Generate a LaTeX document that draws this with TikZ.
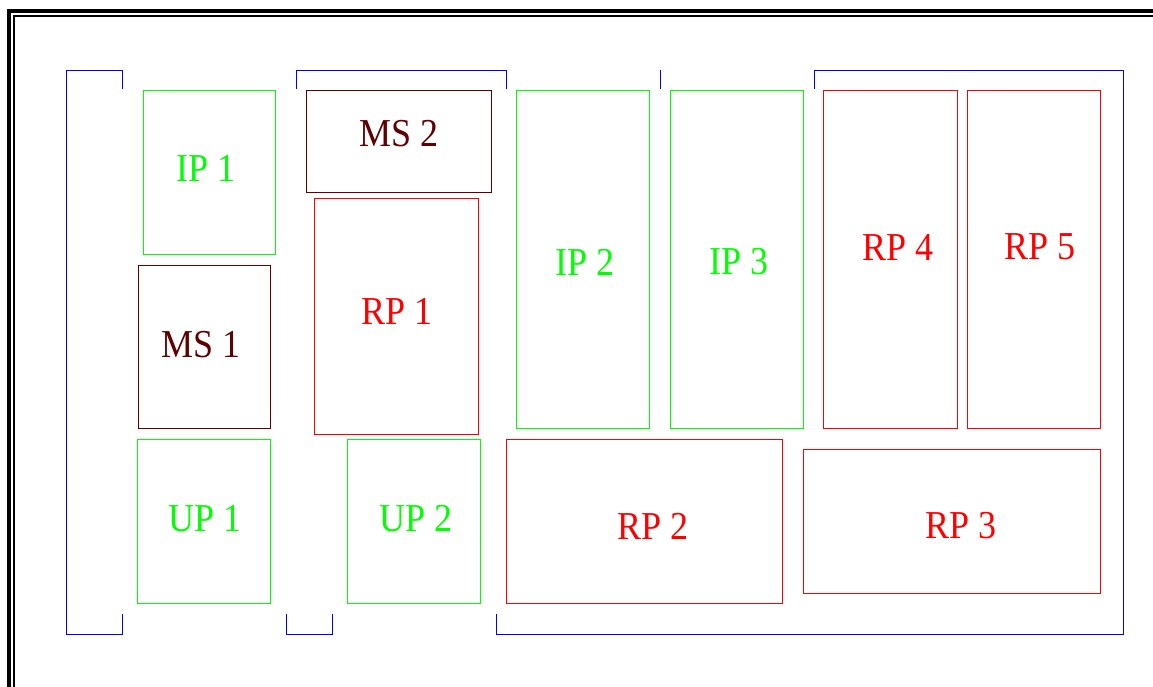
\documentclass[tikz,border=0pt]{standalone}
\usepackage{fontspec}
\setmainfont{Liberation Serif}
\usetikzlibrary{fit}
\definecolor{pgreen}{RGB}{0,255,0}
\definecolor{pred}{RGB}{255,0,0}
\definecolor{pmaroon}{RGB}{96,0,0}
\definecolor{pblue}{RGB}{0,0,255}
\tikzset{
  box/.style={draw, inner sep=0pt, line width=0.75pt},
  gbox/.style={box, draw=pgreen},
  rbox/.style={box, draw=pred},
  mbox/.style={box, draw=pmaroon},
  lbl/.style={inner sep=0pt, font=\fontsize{27}{30}\selectfont},
  brk/.style={draw=pblue, line width=0.75pt},
}
\newcommand{\tall}[1]{\scalebox{1}[1.1]{#1}}
\begin{document}
\begin{tikzpicture}[x=0.75pt,y=-0.75pt]
\useasboundingbox (0,0) rectangle (1153,686);
\clip (0,0) rectangle (1153,686);
% border
\draw[line width=3pt] (9.3,11) rectangle (1300,800);
\draw[line width=1.5pt] (14,16) rectangle (1300,800);
% blue brackets
\draw[brk] (122,89) -- (122,70) -- (66,70) -- (66,634) -- (122,634) -- (122,614);
\draw[brk] (296,89) -- (296,70) -- (506,70) -- (506,89);
\draw[brk] (660,70) -- (660,89);
\draw[brk] (814,89) -- (814,70) -- (1123,70) -- (1123,634) -- (496,634) -- (496,614);
\draw[brk] (286,614) -- (286,634) -- (332,634) -- (332,614);
% boxes
\node[gbox, fit={(143,90) (275,254)}] (ip1) {};
\node[mbox, fit={(138,265) (270,428)}] (ms1) {};
\node[gbox, fit={(137,439) (270,603)}] (up1) {};
\node[mbox, fit={(306,90) (491,192)}] (ms2) {};
\node[rbox, fit={(314,198) (478,434)}] (rp1) {};
\node[gbox, fit={(347,439) (480,603)}] (up2) {};
\node[gbox, fit={(516,90) (649,428)}] (ip2) {};
\node[gbox, fit={(670,90) (803,428)}] (ip3) {};
\node[rbox, fit={(823,90) (957,428)}] (rp4) {};
\node[rbox, fit={(967,90) (1100,428)}] (rp5) {};
\node[rbox, fit={(506,439) (782,603)}] (rp2) {};
\node[rbox, fit={(803,449) (1100,593)}] (rp3) {};
% labels
\node[lbl, text=pgreen] (ip1t) at (206,168) {\tall{IP 1}};
\node[lbl, text=pmaroon] (ms1t) at (201,345) {\tall{MS 1}};
\node[lbl, text=pgreen] (up1t) at (205,519) {\tall{UP 1}};
\node[lbl, text=pmaroon] (ms2t) at (399,134) {\tall{MS 2}};
\node[lbl, text=pred] (rp1t) at (397,311) {\tall{RP 1}};
\node[lbl, text=pgreen] (up2t) at (416,519) {\tall{UP 2}};
\node[lbl, text=pgreen] (ip2t) at (585,262) {\tall{IP 2}};
\node[lbl, text=pgreen] (ip3t) at (739,262) {\tall{IP 3}};
\node[lbl, text=pred] (rp4t) at (898,247) {\tall{RP 4}};
\node[lbl, text=pred] (rp5t) at (1040,247) {\tall{RP 5}};
\node[lbl, text=pred] (rp2t) at (653,526) {\tall{RP 2}};
\node[lbl, text=pred] (rp3t) at (961,526) {\tall{RP 3}};
\end{tikzpicture}
\end{document}
